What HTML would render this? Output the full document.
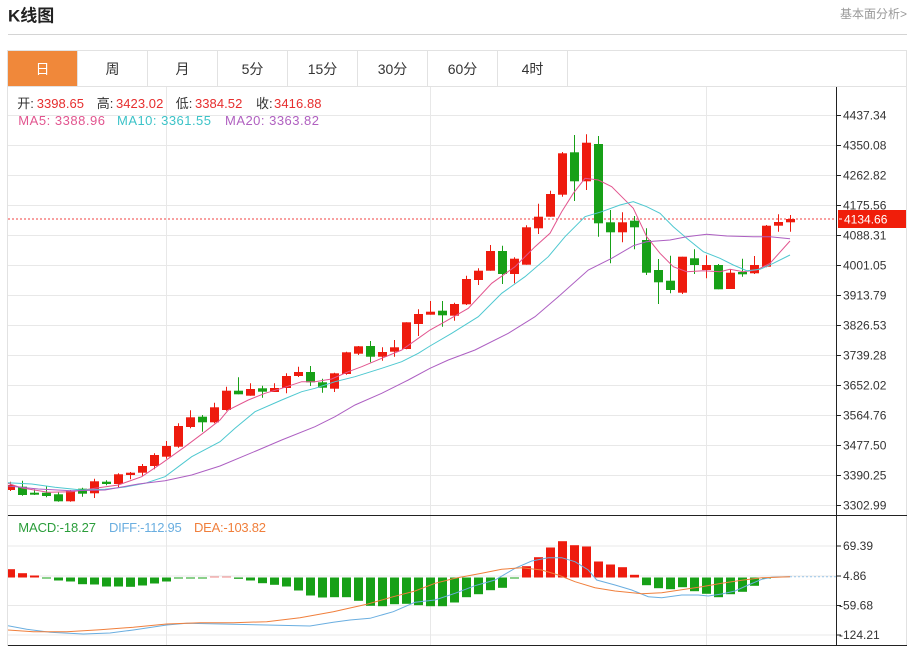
<!DOCTYPE html>
<html><head><meta charset="utf-8"><style>
html,body{margin:0;padding:0;background:#fff;width:914px;height:647px;overflow:hidden}
svg{display:block}
text{font-family:"Liberation Sans","Noto Sans CJK SC",sans-serif}
</style></head><body>
<svg width="914" height="647" viewBox="0 0 914 647" xmlns="http://www.w3.org/2000/svg">
<defs><clipPath id="c"><rect x="8" y="87" width="828" height="558"/></clipPath></defs>
<!-- header -->
<text x="8" y="21.5" font-size="17" font-weight="bold" fill="#222">K线图</text>
<text x="907" y="18" font-size="12" fill="#999" text-anchor="end">基本面分析&gt;</text>
<line x1="8" y1="34.5" x2="907" y2="34.5" stroke="#d4d4d4"/>
<!-- tabs -->
<rect x="7.5" y="50.5" width="899" height="36" fill="#fff" stroke="#e2e2e2"/>
<rect x="8" y="51" width="69" height="35" fill="#f0883a"/>
<g stroke="#e2e2e2"><line x1="147.5" y1="51" x2="147.5" y2="86"/><line x1="217.5" y1="51" x2="217.5" y2="86"/><line x1="287.5" y1="51" x2="287.5" y2="86"/><line x1="357.5" y1="51" x2="357.5" y2="86"/><line x1="427.5" y1="51" x2="427.5" y2="86"/><line x1="497.5" y1="51" x2="497.5" y2="86"/><line x1="567.5" y1="51" x2="567.5" y2="86"/><line x1="77.5" y1="51" x2="77.5" y2="86"/></g>
<g font-size="14" fill="#333" text-anchor="middle">
<text x="42.5" y="74" fill="#fff">日</text><text x="112.5" y="74">周</text><text x="182.5" y="74">月</text><text x="252.5" y="74">5分</text><text x="322.5" y="74">15分</text><text x="392.5" y="74">30分</text><text x="462.5" y="74">60分</text><text x="532.5" y="74">4时</text>
</g>
<!-- panel borders -->
<line x1="7.5" y1="86" x2="7.5" y2="646" stroke="#e2e2e2"/>
<line x1="906.5" y1="86" x2="906.5" y2="646" stroke="#e2e2e2"/>
<!-- grid -->
<g stroke="#e8e8e8">
<line x1="8" y1="115.5" x2="836" y2="115.5"/><line x1="8" y1="145.5" x2="836" y2="145.5"/><line x1="8" y1="175.5" x2="836" y2="175.5"/><line x1="8" y1="205.5" x2="836" y2="205.5"/><line x1="8" y1="235.5" x2="836" y2="235.5"/><line x1="8" y1="265.5" x2="836" y2="265.5"/><line x1="8" y1="295.5" x2="836" y2="295.5"/><line x1="8" y1="325.5" x2="836" y2="325.5"/><line x1="8" y1="355.5" x2="836" y2="355.5"/><line x1="8" y1="385.5" x2="836" y2="385.5"/><line x1="8" y1="415.5" x2="836" y2="415.5"/><line x1="8" y1="445.5" x2="836" y2="445.5"/><line x1="8" y1="475.5" x2="836" y2="475.5"/><line x1="8" y1="505.5" x2="836" y2="505.5"/>
<line x1="8" y1="546" x2="836" y2="546"/><line x1="8" y1="576" x2="836" y2="576"/><line x1="8" y1="605.5" x2="836" y2="605.5"/><line x1="8" y1="635" x2="836" y2="635"/>
<line x1="166.5" y1="87" x2="166.5" y2="645"/><line x1="430.5" y1="87" x2="430.5" y2="645"/><line x1="706.5" y1="87" x2="706.5" y2="645"/>
</g>
<!-- legend -->
<g font-size="13">
<text x="17.3" y="108" fill="#333">开:</text><text x="36.7" y="108" fill="#e62e2e" textLength="47.3">3398.65</text>
<text x="96.7" y="108" fill="#333">高:</text><text x="116" y="108" fill="#e62e2e" textLength="47.3">3423.02</text>
<text x="175.7" y="108" fill="#333">低:</text><text x="195" y="108" fill="#e62e2e" textLength="47.3">3384.52</text>
<text x="256" y="108" fill="#333">收:</text><text x="274" y="108" fill="#e62e2e" textLength="47.5">3416.88</text>
<text x="18.3" y="125" fill="#e2558f" textLength="86.7">MA5: 3388.96</text>
<text x="117" y="125" fill="#3cc3c8" textLength="94">MA10: 3361.55</text>
<text x="225" y="125" fill="#b060c0" textLength="94">MA20: 3363.82</text>
<text x="18.3" y="532" fill="#2a9d3a" textLength="77.7">MACD:-18.27</text>
<text x="109" y="532" fill="#6aaee0" textLength="72.7">DIFF:-112.95</text>
<text x="194" y="532" fill="#f07f3c" textLength="72">DEA:-103.82</text>
</g>
<g clip-path="url(#c)">
<!-- current price line -->
<line x1="8" y1="219" x2="836" y2="219" stroke="#f04040" stroke-dasharray="2 2"/>
<!-- red candles -->
<path fill="none" stroke="#ee1b0e" stroke-width="1" d="M10.5 481.7V491M70.5 490V501.7M94.5 478.7V498M118.5 473.3V487.3M130.5 472V479.3M142.5 464V476M154.5 453.3V469.3M166.5 441V458.7M178.5 423.3V447.7M190.5 410.3V428.3M214.5 402.7V423.3M226.5 386.7V410.7M250.5 383.3V395.7M274.5 383.3V392M286.5 373.3V393.3M298.5 366.7V377M334.5 372.7V392M346.5 351.7V374.7M358.5 346V355M382.5 347.3V360.7M394.5 340V356.7M406.5 322.3V349.3M418.5 309.3V336M430.5 301V314.7M454.5 302.7V320.7M466.5 275.7V305M478.5 268.3V285M490.5 245V270.7M514.5 257.3V283.3M526.5 225.3V264.7M538.5 203.7V234M550.5 190.7V216.7M562.5 152V196.7M586.5 134.3V190M622.5 212.3V242.3M682.5 256.7V294M706.5 255.3V278.3M730.5 269.3V289M754.5 256V274M766.5 225V267.3M778.5 214.3V231.7M790.5 215V231.7"/>
<g fill="#ee1b0e">
<rect x="6" y="485" width="9" height="5"/><rect x="66" y="491" width="9" height="10.3"/><rect x="90" y="481.3" width="9" height="12"/><rect x="114" y="474.3" width="9" height="9.7"/><rect x="126" y="472.7" width="9" height="2.3"/><rect x="138" y="466" width="9" height="6.7"/><rect x="150" y="455" width="9" height="11"/><rect x="162" y="446" width="9" height="10.7"/><rect x="174" y="426" width="9" height="20.7"/><rect x="186" y="417.3" width="9" height="9.7"/><rect x="210" y="407.3" width="9" height="15"/><rect x="222" y="390.7" width="9" height="19.3"/><rect x="246" y="389" width="9" height="6.7"/><rect x="270" y="388" width="9" height="4"/><rect x="282" y="376" width="9" height="12"/><rect x="294" y="372" width="9" height="4"/><rect x="330" y="373.3" width="9" height="15.4"/><rect x="342" y="352.3" width="9" height="21.7"/><rect x="354" y="346.3" width="9" height="7.4"/><rect x="378" y="352" width="9" height="4.7"/><rect x="390" y="347.3" width="9" height="4.4"/><rect x="402" y="322.3" width="9" height="26.7"/><rect x="414" y="314" width="9" height="10"/><rect x="426" y="311.7" width="9" height="3"/><rect x="450" y="304" width="9" height="11.7"/><rect x="462" y="279" width="9" height="25.3"/><rect x="474" y="270.7" width="9" height="9.3"/><rect x="486" y="251" width="9" height="19.7"/><rect x="510" y="258.7" width="9" height="15.3"/><rect x="522" y="227.3" width="9" height="37.4"/><rect x="534" y="216.7" width="9" height="11.6"/><rect x="546" y="194" width="9" height="22.7"/><rect x="558" y="153.3" width="9" height="41.4"/><rect x="582" y="142.7" width="9" height="38.6"/><rect x="618" y="222.3" width="9" height="10"/><rect x="678" y="256.7" width="9" height="36"/><rect x="702" y="265" width="9" height="5"/><rect x="726" y="272.7" width="9" height="16.3"/><rect x="750" y="265" width="9" height="8.3"/><rect x="762" y="225.7" width="9" height="41"/><rect x="774" y="222" width="9" height="3.7"/><rect x="786" y="219" width="9" height="3.3"/>
</g>
<!-- green candles -->
<path fill="none" stroke="#17a017" stroke-width="1" d="M22.5 480.7V495.7M34.5 489.3V495M46.5 486V497.3M58.5 491.7V501.7M82.5 487.7V496.7M106.5 480.3V485.3M202.5 415V431.7M238.5 377.3V394.3M262.5 385.7V397.7M310.5 366V386M322.5 378.7V392.7M370.5 341V362.3M442.5 301V326.7M502.5 245.7V284M574.5 135V201M598.5 136V236.7M610.5 210V263.3M634.5 216V249.3M646.5 228.3V275M658.5 259V304M670.5 255.7V293.3M694.5 249.3V274M718.5 264V289.3M742.5 258.7V276.7"/>
<g fill="#17a017">
<rect x="18" y="486.7" width="9" height="8.3"/><rect x="30" y="492.7" width="9" height="2"/><rect x="42" y="492.7" width="9" height="3.3"/><rect x="54" y="494.3" width="9" height="7"/><rect x="78" y="488.7" width="9" height="5"/><rect x="102" y="481.7" width="9" height="2.3"/><rect x="198" y="416.7" width="9" height="5.6"/><rect x="234" y="390.7" width="9" height="3.6"/><rect x="258" y="388.3" width="9" height="3.4"/><rect x="306" y="372" width="9" height="10.3"/><rect x="318" y="382.3" width="9" height="5.4"/><rect x="366" y="346" width="9" height="10.7"/><rect x="438" y="310.7" width="9" height="4.6"/><rect x="498" y="251" width="9" height="23"/><rect x="570" y="152.3" width="9" height="29"/><rect x="594" y="144" width="9" height="79.3"/><rect x="606" y="222.3" width="9" height="10"/><rect x="630" y="220.7" width="9" height="6.6"/><rect x="642" y="240" width="9" height="32.7"/><rect x="654" y="270" width="9" height="12.3"/><rect x="666" y="280.7" width="9" height="9.3"/><rect x="690" y="258.3" width="9" height="6.7"/><rect x="714" y="265" width="9" height="24.3"/><rect x="738" y="272" width="9" height="2.3"/>
</g>
<!-- MA lines -->
<polyline fill="none" stroke="#e2558f" stroke-width="1" points="8,483.3 22,488 48,492.3 71.7,491.7 95,488.3 118.3,485 141.7,476.7 161.7,463.3 185,446.7 205,431.7 220,420 228.3,410 248.3,400 265,393.3 281.7,388.3 301.7,381.7 315,381.7 331.7,379 348.3,371.7 361.7,366.7 381.7,358.3 401.7,350 418.3,338.3 430,330 445,321.7 468.3,308.3 491.7,283.3 515,266.7 535,246.7 550,233.3 561.7,211.7 573.3,193.3 585,178.3 598.3,180 611.7,186.7 621.7,196.7 633.3,208.3 646.7,236.7 660,253.3 673.3,266.7 686.7,271.7 703.3,270.7 720,271.7 730,269.3 743.3,271.7 756.7,270 770,263.3 790,241"/>
<polyline fill="none" stroke="#4ec8d0" stroke-width="1" points="8,482.7 31.7,484 55,487.3 81.7,490 105,489.3 125,487 145,483.3 165,476.7 191.7,456.7 220,441.7 235,428.3 255,411.7 281.7,400 301.7,391.7 315,388.3 335,381.7 355,376.7 381.7,368.3 401.7,361.7 418.3,353.3 430,346 451.7,333.3 478.3,316.7 501.7,293.3 525,276.7 548.3,256.7 565,236.7 585,216.7 601.7,211.7 620,205 633.3,201.7 646.7,206.7 660,213.3 673.3,226.7 686.7,238.3 703.3,251.7 720,258.3 733.3,265 746.7,270.7 760,269.3 773.3,263.3 790,255"/>
<polyline fill="none" stroke="#ad5fc2" stroke-width="1" points="8,486 38.3,489 71.7,490.7 105,490 138.3,484 165,480.7 191.7,475 220,466 258.3,450 281.7,440 315,426.7 335,416.7 355,405 381.7,393.3 408.3,380 430,368.3 448.3,360 475,350 508.3,333.3 535,316.7 558.3,296.7 588.3,270 611.7,258.3 633.3,245.7 646.7,241.7 670,240 686.7,236.7 706.7,234.3 726.7,236 753.3,236.7 770,236.7 790,238.7"/>
<!-- MACD bars -->
<g fill="#ee1b0e">
<rect x="6" y="569.2" width="9" height="8.3"/><rect x="18" y="573.2" width="9" height="4.3"/><rect x="30" y="575.5" width="9" height="2"/><rect x="522" y="566.2" width="9" height="11.3"/><rect x="534" y="557.2" width="9" height="20.3"/><rect x="546" y="547.5" width="9" height="30"/><rect x="558" y="541.2" width="9" height="36.3"/><rect x="570" y="545.2" width="9" height="32.3"/><rect x="582" y="546.5" width="9" height="31"/><rect x="594" y="561.5" width="9" height="16"/><rect x="606" y="564.5" width="9" height="13"/><rect x="618" y="567.2" width="9" height="10.3"/><rect x="630" y="574.8" width="9" height="2.7"/>
</g>
<g fill="#f08a8a"><rect x="210" y="576.5" width="9" height="1"/><rect x="222" y="576.5" width="9" height="1"/></g>
<g fill="#17a017">
<rect x="42" y="577.5" width="9" height="1"/><rect x="54" y="577.5" width="9" height="3"/><rect x="66" y="577.5" width="9" height="4"/><rect x="78" y="577.5" width="9" height="6.7"/><rect x="90" y="577.5" width="9" height="7"/><rect x="102" y="577.5" width="9" height="9"/><rect x="114" y="577.5" width="9" height="9"/><rect x="126" y="577.5" width="9" height="9.3"/><rect x="138" y="577.5" width="9" height="8"/><rect x="150" y="577.5" width="9" height="6"/><rect x="162" y="577.5" width="9" height="4"/><rect x="174" y="577.5" width="9" height="1"/><rect x="186" y="577.5" width="9" height="1"/><rect x="198" y="577.5" width="9" height="1"/><rect x="234" y="577.5" width="9" height="1.3"/><rect x="246" y="577.5" width="9" height="3"/><rect x="258" y="577.5" width="9" height="5.7"/><rect x="270" y="577.5" width="9" height="7.3"/><rect x="282" y="577.5" width="9" height="9"/><rect x="294" y="577.5" width="9" height="13"/><rect x="306" y="577.5" width="9" height="18"/><rect x="318" y="577.5" width="9" height="20"/><rect x="330" y="577.5" width="9" height="19.7"/><rect x="342" y="577.5" width="9" height="19.7"/><rect x="354" y="577.5" width="9" height="23.3"/><rect x="366" y="577.5" width="9" height="28.3"/><rect x="378" y="577.5" width="9" height="28.7"/><rect x="390" y="577.5" width="9" height="26.7"/><rect x="402" y="577.5" width="9" height="26.3"/><rect x="414" y="577.5" width="9" height="27.7"/><rect x="426" y="577.5" width="9" height="28.7"/><rect x="438" y="577.5" width="9" height="28.7"/><rect x="450" y="577.5" width="9" height="25"/><rect x="462" y="577.5" width="9" height="19.7"/><rect x="474" y="577.5" width="9" height="16.7"/><rect x="486" y="577.5" width="9" height="12.7"/><rect x="498" y="577.5" width="9" height="10.3"/><rect x="510" y="577.5" width="9" height="1"/><rect x="642" y="577.5" width="9" height="7.7"/><rect x="654" y="577.5" width="9" height="10.7"/><rect x="666" y="577.5" width="9" height="11.7"/><rect x="678" y="577.5" width="9" height="9.7"/><rect x="690" y="577.5" width="9" height="13.7"/><rect x="702" y="577.5" width="9" height="16.3"/><rect x="714" y="577.5" width="9" height="19.7"/><rect x="726" y="577.5" width="9" height="16.7"/><rect x="738" y="577.5" width="9" height="14.3"/><rect x="750" y="577.5" width="9" height="8.3"/><rect x="762" y="577.5" width="9" height="1"/>
</g>
<line x1="790" y1="576.7" x2="836" y2="576.7" stroke="#9cc8ea" stroke-dasharray="2 2"/>
<polyline fill="none" stroke="#6aaee0" stroke-width="1" points="8,625.7 26.7,629.3 50,632.3 83.3,634 110,633 133.3,630 166.7,625 186.7,623.3 233.3,624.3 266.7,625 310,626 333.3,622.3 350,620 370,618.3 393.3,611.7 415,602.3 435,600 455,593.3 475,585.7 495,580 515,568.3 531.7,561 548.3,557.7 561.7,557.7 575,561.7 588.3,570 596.7,580 615,585 631.7,590 648.3,596.7 661.7,597.7 681.7,595 698.3,595 708.3,596 721.7,594 735,591 748.3,585 761.7,579.3 771.7,577.3 790,576.7"/>
<polyline fill="none" stroke="#f07f3c" stroke-width="1" points="8,630 33.3,631.7 66.7,631.7 100,629.7 133.3,627.3 166.7,624 200,622.7 233.3,622.7 266.7,621.7 300,617.7 333.3,611.7 366.7,604.3 393.3,596.7 415,591 435,583.3 455,578.3 481.7,573.3 501.7,569.3 521.7,567.7 541.7,570 558.3,575 575,581.7 595,587.7 615,591 641.7,593.7 661.7,592.7 681.7,589.7 701.7,586.7 721.7,583.3 741.7,580.3 761.7,577.7 790,576.7"/>
</g>
<!-- axes -->
<line x1="8" y1="515.5" x2="907" y2="515.5" stroke="#222"/>
<line x1="8" y1="645.5" x2="907" y2="645.5" stroke="#222"/>
<line x1="836.5" y1="87" x2="836.5" y2="645" stroke="#222"/>
<g stroke="#222">
<line x1="837" y1="115.5" x2="841" y2="115.5"/><line x1="837" y1="145.5" x2="841" y2="145.5"/><line x1="837" y1="175.5" x2="841" y2="175.5"/><line x1="837" y1="205.5" x2="841" y2="205.5"/><line x1="837" y1="235.5" x2="841" y2="235.5"/><line x1="837" y1="265.5" x2="841" y2="265.5"/><line x1="837" y1="295.5" x2="841" y2="295.5"/><line x1="837" y1="325.5" x2="841" y2="325.5"/><line x1="837" y1="355.5" x2="841" y2="355.5"/><line x1="837" y1="385.5" x2="841" y2="385.5"/><line x1="837" y1="415.5" x2="841" y2="415.5"/><line x1="837" y1="445.5" x2="841" y2="445.5"/><line x1="837" y1="475.5" x2="841" y2="475.5"/><line x1="837" y1="505.5" x2="841" y2="505.5"/>
<line x1="837" y1="546" x2="841" y2="546"/><line x1="837" y1="576" x2="841" y2="576"/><line x1="837" y1="605.5" x2="841" y2="605.5"/><line x1="837" y1="635" x2="841" y2="635"/>
</g>
<g font-size="12" fill="#333">
<text x="843" y="119.5">4437.34</text><text x="843" y="149.5">4350.08</text><text x="843" y="179.5">4262.82</text><text x="843" y="209.5">4175.56</text><text x="843" y="239.5">4088.31</text><text x="843" y="269.5">4001.05</text><text x="843" y="299.5">3913.79</text><text x="843" y="329.5">3826.53</text><text x="843" y="359.5">3739.28</text><text x="843" y="389.5">3652.02</text><text x="843" y="419.5">3564.76</text><text x="843" y="449.5">3477.50</text><text x="843" y="479.5">3390.25</text><text x="843" y="509.5">3302.99</text>
<text x="843" y="550">69.39</text><text x="843" y="580">4.86</text><text x="839" y="609.5">-59.68</text><text x="839" y="639">-124.21</text>
</g>
<rect x="838" y="210" width="68" height="18" fill="#f01e0a"/>
<line x1="839" y1="219" x2="842" y2="219" stroke="#fff"/>
<text x="844" y="223.5" font-size="12" fill="#fff">4134.66</text>
</svg>
</body></html>
